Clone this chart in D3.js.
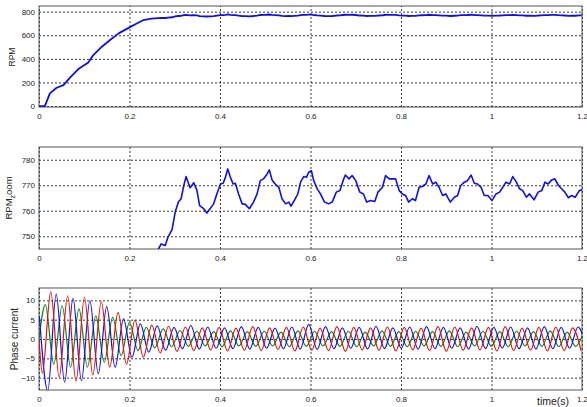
<!DOCTYPE html>
<html>
<head>
<meta charset="utf-8">
<script src="https://cdn.jsdelivr.net/npm/d3@7"></script>
<style>
  body { margin: 0; background: #fff; }
  text { font-family: "Liberation Sans", Arial, sans-serif; fill: #222; }
</style>
</head>
<body>
<div id="chart"></div>
<script>
// speed during the start
var tRise = [0, 0.013, 0.024, 0.039, 0.054, 0.069, 0.087, 0.109, 0.12, 0.139, 0.157, 0.176, 0.2, 0.216, 0.231, 0.248];
var rpmRise = [0, 0, 107, 155, 178, 243, 314, 370, 432, 503, 560, 616, 667, 700, 729, 741];

// speed after 0.26 s
var tZoom = [0.258, 0.264, 0.27, 0.279, 0.285, 0.294, 0.301, 0.308, 0.314, 0.32, 0.325, 0.334, 0.342, 0.349, 0.355,
  0.364, 0.371, 0.378, 0.386, 0.393, 0.401, 0.407, 0.412, 0.417, 0.423, 0.429, 0.434, 0.441, 0.449, 0.456, 0.465,
  0.474, 0.482, 0.489, 0.496, 0.502, 0.509, 0.515, 0.522, 0.53, 0.537, 0.545, 0.552, 0.557, 0.564, 0.572, 0.578,
  0.585, 0.591, 0.596, 0.602, 0.607, 0.615, 0.622, 0.631, 0.64, 0.648, 0.657, 0.665, 0.672, 0.677, 0.685, 0.692,
  0.7, 0.709, 0.717, 0.724, 0.733, 0.742, 0.749, 0.759, 0.766, 0.774, 0.788, 0.796, 0.803, 0.81, 0.817, 0.825,
  0.832, 0.84, 0.847, 0.855, 0.862, 0.87, 0.877, 0.884, 0.892, 0.899, 0.909, 0.918, 0.925, 0.932, 0.94, 0.947,
  0.955, 0.962, 0.969, 0.977, 0.984, 0.992, 1.001, 1.01, 1.018, 1.025, 1.032, 1.04, 1.047, 1.055, 1.062, 1.069,
  1.077, 1.084, 1.094, 1.103, 1.111, 1.118, 1.125, 1.133, 1.14, 1.148, 1.155, 1.162, 1.17, 1.177, 1.185, 1.194, 1.2];
var rpmZoom = [743, 745, 747, 746.4, 749.7, 752.6, 759.5, 763.4, 764.7, 769.9, 773.4, 769, 771, 768, 762,
  760.8, 759.1, 760.8, 762.7, 766.6, 770.5, 770.8, 773.1, 776.4, 773.1, 770.5, 770.8, 766.6, 762.7, 762.5, 760.8,
  763.4, 766.6, 771.8, 772.5, 773.8, 776, 772.1, 770.5, 769.2, 764.7, 762.7, 763.4, 761.8, 764, 766.6, 771.2,
  773.4, 773.1, 775.1, 775.7, 771.8, 768.6, 766.6, 763.4, 762.7, 763.4, 767.3, 767.9, 771.8, 774, 772.5, 773.8,
  771.8, 767.3, 766.6, 763.4, 764, 763.6, 767.3, 769.2, 773.8, 772.5, 772.5, 767.9, 766.6, 766, 763.4, 764.7,
  764, 769.2, 769.5, 770.5, 773.8, 770.5, 771.2, 769.2, 766, 766.6, 763.4, 765.3, 766, 769.9, 771.2, 771.8,
  774, 770.8, 770.5, 769.2, 766, 766, 764, 766.6, 767.3, 769.2, 771.2, 770.5, 773.4, 771.2, 768.6, 767.9,
  765.3, 766.6, 764.3, 767.3, 767.9, 771.2, 770.5, 772.1, 772.5, 769.9, 768.6, 767.3, 765.1, 766, 765.3, 767.9, 768.2];

// phase currents: successive peaks / troughs, one every half period
var halfPeriod = 0.0186;
var redStart = 0.0074, blueStart = 0.0008, greenStart = 0.014;
var redPeaks = [-8.8, 12.2, -9.9, 11.2, -10.9, 10.8, -9.3, 9.7, -7.3, 6.9, -6.5, 4.9, -4.7, 3.6, -3.6, 3.3, -3.2, 3.1,
  -3.0, 2.9, -2.8, 3.0, -3.1, 2.8, -2.9, 3.2, -3.0, 2.9, -2.7, 3.0, -3.1, 3.1, -2.9, 2.8, -3.0, 3.2, -3.2, 3.0,
  -2.8, 2.9, -2.9, 3.1, -3.1, 3.0, -2.8, 2.8, -3.0, 3.2, -3.2, 3.1, -2.9, 2.9, -2.8, 3.0, -3.1, 3.2, -3.0, 2.8,
  -2.9, 3.0, -3.1, 3.1, -3.0, 2.9, -3.0];
var bluePeaks = [6, -13.4, 11.6, -11.2, 10.5, -10.8, 9.9, -9, 8.4, -7.3, 5.2, -4.7, 3.9, -3.4, 3.4, -2.9,
  3.0, -2.5, 3.5, -2.6, 3.1, -2.4, 2.9, -2.5, 3.2, -2.6, 3.0, -2.4, 2.8, -2.5, 3.1, -2.6, 3.8, -2.7, 3.2, -2.5,
  2.9, -2.4, 3.0, -2.6, 3.3, -2.5, 2.9, -2.4, 3.1, -2.6, 3.2, -2.5, 3.0, -2.4, 2.9, -2.6, 3.3, -2.5, 3.0, -2.4,
  3.1, -2.5, 2.9, -2.6, 3.2, -2.5, 3.0, -2.4, 3.1, -2.5];
var greenPeaks = [8.9, -6.5, 8.6, -7.3, 7.8, -7.3, 6.0, -6.0, 5.6, -4.3, 4.3, -3.0, 3.0, -2.3, 2.6, -2.0, 2.2,
  -1.9, 2.0, -1.8, 1.9, -2.0, 2.1, -1.8, 1.9, -1.9, 2.0, -1.8, 1.8, -2.0, 2.1, -1.9, 2.0, -1.8, 1.9, -1.9,
  2.0, -2.0, 1.8, -1.8, 2.1, -1.9, 1.9, -2.0, 2.0, -1.8, 1.9, -1.9, 2.1, -2.0, 1.8, -1.8, 2.0, -1.9, 1.9, -2.0,
  2.0, -1.8, 1.9, -1.9, 2.1, -2.0, 1.8, -1.9, 2.0];

var xTicks = [0, 0.2, 0.4, 0.6, 0.8, 1, 1.2];

var svg = d3.select("#chart").append("svg").attr("width", 587).attr("height", 407);

var left = 39, right = 582;
var x = d3.scaleLinear().domain([0, 1.2]).range([left, right]);

// one subplot: frame, dotted grid, tick labels
function panel(id, top, bottom, yDomain, yTicks) {
  var y = d3.scaleLinear().domain(yDomain).range([bottom, top]);
  var g = svg.append("g");

  g.append("clipPath").attr("id", id)
    .append("rect").attr("x", left).attr("y", top).attr("width", right - left).attr("height", bottom - top);

  g.append("g").attr("transform", "translate(0," + bottom + ")")
    .call(d3.axisBottom(x).tickValues(xTicks).tickSize(-(bottom - top)).tickPadding(6).tickFormat(d3.format("")))
    .call(styleAxis);
  g.append("g").attr("transform", "translate(" + left + ",0)")
    .call(d3.axisLeft(y).tickValues(yTicks).tickSize(-(right - left)).tickPadding(4))
    .call(styleAxis);

  g.append("rect").attr("x", left).attr("y", top).attr("width", right - left).attr("height", bottom - top)
    .attr("fill", "none").attr("stroke", "#555").attr("stroke-width", 1);
  return { g: g, y: y, clip: "url(#" + id + ")" };
}

function styleAxis(sel) {
  sel.select(".domain").remove();
  sel.selectAll(".tick line").attr("stroke", "#222").attr("stroke-dasharray", "2,2").attr("stroke-width", 0.9);
  sel.selectAll(".tick text").style("font-size", "8px").attr("fill", "#222");
}

function drawLine(p, pts, color, w) {
  p.g.append("path")
    .datum(pts)
    .attr("clip-path", p.clip)
    .attr("fill", "none")
    .attr("stroke", color)
    .attr("stroke-width", w)
    .attr("stroke-linejoin", "round")
    .attr("d", d3.line()
      .x(function (d) { return x(d[0]); })
      .y(function (d) { return p.y(d[1]); }));
}

function pairs(ts, vs) {
  return ts.map(function (t, i) { return [t, vs[i]]; });
}

// top: RPM
var p1 = panel("c1", 6, 107, [-8, 848], [0, 200, 400, 600, 800]);
drawLine(p1, pairs(tRise, rpmRise).concat(pairs(tZoom, rpmZoom).slice(1)), "#1010e0", 1.8);

// middle: RPM zoom
var p2 = panel("c2", 147, 249, [745, 785], [750, 760, 770, 780]);
drawLine(p2, pairs(tZoom, rpmZoom), "#1010e0", 1.6);

// bottom: phase currents, smooth curve through each peak
var p3 = panel("c3", 288, 390, [-13.2, 13.2], [-10, -5, 0, 5, 10]);
function phase(start, peaks, lead) {
  var pts = peaks.map(function (v, i) { return [start + i * halfPeriod, v]; });
  return lead ? [[0, 0]].concat(pts) : pts;
}
var sine = d3.line()
  .curve(d3.curveMonotoneX)
  .x(function (d) { return x(d[0]); })
  .y(function (d) { return p3.y(d[1]); });
[[greenStart, greenPeaks, true, "#0a860a"], [blueStart, bluePeaks, false, "#1010e8"], [redStart, redPeaks, true, "#e01010"]]
  .forEach(function (s) {
    p3.g.append("path")
      .datum(phase(s[0], s[1], s[2]))
      .attr("clip-path", p3.clip)
      .attr("fill", "none")
      .attr("stroke", s[3])
      .attr("stroke-width", 1.2)
      .attr("d", sine);
  });

// axis titles
svg.append("text").attr("transform", "translate(15,57) rotate(-90)")
  .attr("text-anchor", "middle").style("font-size", "8.5px").text("RPM");

var zt = svg.append("text").attr("transform", "translate(12,198) rotate(-90)")
  .attr("text-anchor", "middle").style("font-size", "9.5px");
zt.append("tspan").text("RPM");
zt.append("tspan").attr("dy", 3).style("font-size", "7px").text("z");
zt.append("tspan").attr("dy", -3).text("oom");

svg.append("text").attr("transform", "translate(18,339) rotate(-90)")
  .attr("text-anchor", "middle").style("font-size", "10px").text("Phase current");

svg.append("text").attr("x", 537).attr("y", 405).style("font-size", "10.5px").text("time(s)");
</script>
</body>
</html>
